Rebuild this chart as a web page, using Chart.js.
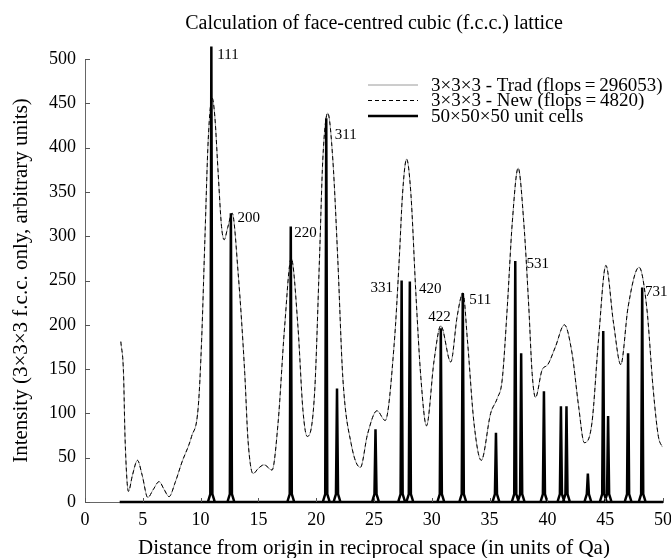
<!DOCTYPE html>
<html>
<head>
<meta charset="utf-8">
<script src="https://cdn.jsdelivr.net/npm/chart.js@4.4.1/dist/chart.umd.min.js"></script>
<style>
  html, body { margin: 0; padding: 0; background: #fff; }
  #wrap { width: 671px; height: 558px; }
</style>
</head>
<body>
<div id="wrap"><canvas id="myChart" width="671" height="558"></canvas></div>
<script>
// 3x3x3 f.c.c. curve (Trad and New overlap at this scale)
const curveX = [3.1, 3.33, 3.47, 3.76, 4.1, 4.54, 4.95, 5.43, 5.9, 6.41, 6.85, 7.27, 7.8, 8.36, 9.22, 9.8,
  10.09, 10.37, 10.66, 11.0, 11.23, 11.52, 11.81, 12.04, 12.35, 12.73, 13.25, 13.82, 14.1, 14.54, 15.0, 15.49,
  16.18, 16.7, 17.27, 17.84, 18.42, 18.85, 19.22, 19.86, 20.28, 20.57, 21.0, 21.44, 21.87, 22.3, 23.02, 23.82,
  24.45, 25.26, 25.97, 26.75, 27.18, 27.47, 27.82, 28.19, 28.62, 29.05, 29.54, 30.2, 30.78, 31.64, 32.2, 32.7,
  33.08, 33.65, 34.28, 35.09, 35.66, 36.09, 36.53, 36.96, 37.47, 37.96, 38.39, 38.68, 38.97, 39.54, 40.03, 40.69,
  41.47, 42.13, 42.7, 43.19, 43.85, 44.42, 45.06, 45.72, 46.35, 46.98, 47.93, 48.59, 49.16, 49.6, 49.94];
const curveY = [181, 146, 70, 12, 30, 47, 30, 5, 14, 23, 14, 6, 22, 44, 74, 108,
  183, 296, 409, 456, 435, 371, 311, 296, 310, 326, 258, 145, 70, 32, 38, 42,
  36, 89, 198, 275, 198, 104, 74, 123, 273, 386, 439, 386, 273, 141, 66, 39,
  77, 103, 92, 179, 273, 348, 387, 348, 236, 141, 86, 160, 199, 158, 210, 236,
  183, 89, 47, 100, 117, 138, 220, 315, 377, 315, 220, 145, 118, 149, 155, 175,
  200, 168, 108, 67, 89, 183, 267, 202, 155, 220, 265, 220, 126, 74, 62];

// 50x50x50 unit cells: peak positions and heights
const peakX = [10.93, 12.62, 17.8, 20.87, 21.8, 25.13, 27.39, 28.1, 30.78, 32.68, 35.55,
  37.22, 37.73, 39.7, 41.17, 41.65, 43.5, 44.83, 45.25, 46.98, 48.2];
const peakY = [514, 326, 311, 433, 128, 82, 250, 249, 196, 236, 78,
  272, 168, 125, 108, 108, 32, 193, 97, 168, 242];

// hkl labels
const labelText = ['111', '200', '220', '311', '331', '420', '422', '511', '531', '731'];
const labelX = [11.45, 13.2, 18.1, 21.6, 26.65, 28.9, 30.67, 33.25, 38.2, 48.45];
const labelY = [504, 320, 304, 414, 241, 240, 209, 228, 269, 237];
const labelAlign = ['left', 'left', 'left', 'left', 'right', 'left', 'center', 'left', 'left', 'left'];

const legendText = ['3\u00d73\u00d73 - Trad (flops\u2009=\u2009296053)', '3\u00d73\u00d73 - New (flops\u2009=\u20094820)', '50\u00d750\u00d750 unit cells'];

const SERIF = '"Liberation Serif", "DejaVu Serif", serif';

// spike shape: flare at the foot, then a narrow neck
const FLARE = 0.3, NECK = 0.09, NECK_Y = 9;
const spikeData = [{ x: 3, y: 0 }, { x: 50, y: 0 }, { x: 50, y: null }];
peakX.forEach((p, i) => {
  spikeData.push(
    { x: p - FLARE, y: 0 }, { x: p - NECK, y: NECK_Y }, { x: p, y: peakY[i] },
    { x: p + NECK, y: NECK_Y }, { x: p + FLARE, y: 0 }, { x: p + FLARE, y: null });
});
const curveData = curveX.map((x, i) => ({ x: x, y: curveY[i] }));

const extras = {
  id: 'extras',
  afterDraw(chart) {
    const ctx = chart.ctx;
    const xs = chart.scales.x, ys = chart.scales.y;
    const area = chart.chartArea;
    ctx.save();
    // inward tick marks
    ctx.strokeStyle = '#555';
    ctx.lineWidth = 1;
    ctx.beginPath();
    ys.ticks.forEach(t => {
      const py = Math.round(ys.getPixelForValue(t.value)) + 0.5;
      ctx.moveTo(area.left, py);
      ctx.lineTo(area.left + 5, py);
    });
    xs.ticks.forEach(t => {
      const px = Math.round(xs.getPixelForValue(t.value)) + 0.5;
      ctx.moveTo(px, area.bottom);
      ctx.lineTo(px, area.bottom - 4);
    });
    ctx.stroke();

    // hkl labels
    ctx.fillStyle = '#000';
    ctx.font = '15px ' + SERIF;
    ctx.textBaseline = 'middle';
    labelText.forEach((s, i) => {
      ctx.textAlign = labelAlign[i];
      ctx.fillText(s, xs.getPixelForValue(labelX[i]), ys.getPixelForValue(labelY[i]));
    });

    // legend
    const rows = [85, 100.5, 116];
    const x0 = 368, x1 = 418;
    ctx.font = '19px ' + SERIF;
    ctx.textAlign = 'left';
    rows.forEach((y, i) => {
      ctx.beginPath();
      if (i === 0) { ctx.strokeStyle = '#9a9a9a'; ctx.lineWidth = 1; ctx.setLineDash([]); }
      if (i === 1) { ctx.strokeStyle = '#000'; ctx.lineWidth = 1; ctx.setLineDash([4, 3]); }
      if (i === 2) { ctx.strokeStyle = '#000'; ctx.lineWidth = 2.5; ctx.setLineDash([]); }
      ctx.moveTo(x0, y);
      ctx.lineTo(x1, y);
      ctx.stroke();
      ctx.fillText(legendText[i], 431, y + 1);
    });
    ctx.restore();
  }
};

new Chart(document.getElementById('myChart'), {
  type: 'line',
  data: {
    datasets: [
      {
        label: '50x50x50 unit cells',
        data: spikeData,
        borderColor: '#000',
        borderWidth: 2.5,
        pointRadius: 0,
        tension: 0,
        spanGaps: false,
        clip: false
      },
      {
        label: '3x3x3 - New',
        data: curveData,
        borderColor: '#000',
        borderWidth: 1,
        borderDash: [4, 3],
        pointRadius: 0,
        cubicInterpolationMode: 'monotone',
        clip: false
      },
      {
        label: '3x3x3 - Trad',
        data: curveData,
        borderColor: '#9a9a9a',
        borderWidth: 1,
        pointRadius: 0,
        cubicInterpolationMode: 'monotone',
        clip: false
      }
    ]
  },
  options: {
    responsive: false,
    animation: false,
    devicePixelRatio: 1,
    layout: { padding: { left: 11, right: 0, top: 0, bottom: 0 } },
    plugins: {
      legend: { display: false },
      tooltip: { enabled: false },
      title: {
        display: true,
        fullSize: false,
        text: 'Calculation of face-centred cubic (f.c.c.) lattice',
        color: '#000',
        font: { family: SERIF, size: 20, weight: 'normal', lineHeight: 1.2 },
        padding: { top: 12, bottom: 23 }
      }
    },
    scales: {
      x: {
        type: 'linear',
        min: 0,
        max: 50,
        ticks: { stepSize: 5, color: '#000', font: { family: SERIF, size: 18 }, padding: 7, maxRotation: 0 },
        grid: { display: false, drawTicks: false },
        border: { display: true, color: '#666', width: 1 },
        title: {
          display: true,
          text: 'Distance from origin in reciprocal space (in units of Qa)',
          color: '#000',
          font: { family: SERIF, size: 21, weight: 'normal', lineHeight: 0.9 },
          padding: { top: 0, bottom: 0 }
        },
        afterFit(scale) {
          scale.height = 56;
          scale.paddingRight = 8;
        }
      },
      y: {
        min: 0,
        max: 500,
        ticks: { stepSize: 50, color: '#000', font: { family: SERIF, size: 18 }, padding: 9 },
        grid: { display: false, drawTicks: false },
        border: { display: true, color: '#666', width: 1 },
        title: {
          display: true,
          text: 'Intensity (3\u00d73\u00d73 f.c.c. only, arbitrary units)',
          color: '#000',
          font: { family: SERIF, size: 21, weight: 'normal', lineHeight: 1 },
          padding: { top: 0, bottom: 0 }
        },
        afterFit(scale) { scale.width = 74; }
      }
    }
  },
  plugins: [extras]
});
</script>
</body>
</html>
